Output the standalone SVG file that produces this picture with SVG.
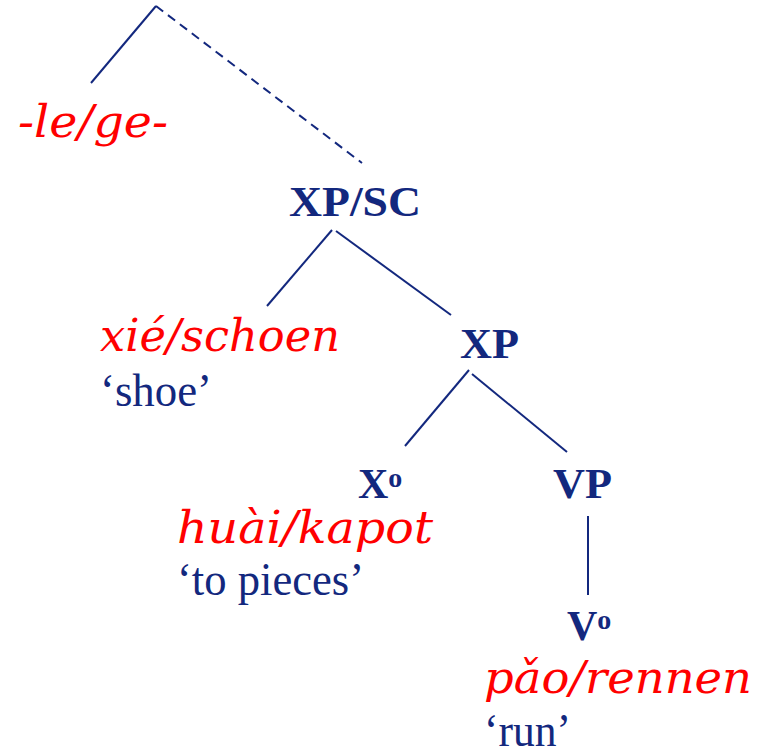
<svg xmlns="http://www.w3.org/2000/svg" width="762" height="753" viewBox="0 0 762 753">
  <style>
    .edge { stroke: #13287e; stroke-width: 2; fill: none; }
    .dash { stroke-dasharray: 9 6; }
    .cat { font-family: "Liberation Serif", "Times New Roman", serif; font-weight: bold; font-size: 42px; fill: #13287e; }
    .word { font-family: "DejaVu Serif", Georgia, serif; font-style: italic; font-size: 45px; fill: #ff0000; }
    .gloss { font-family: "Liberation Serif", "Times New Roman", serif; font-size: 46px; fill: #13287e; }
    .sup { font-size: 28px; }
  </style>
  <rect width="762" height="753" fill="#ffffff"/>

  <g id="connectors">
    <line class="edge" x1="156" y1="6" x2="91" y2="83"/>
    <line class="edge dash" x1="156" y1="6" x2="362" y2="163"/>
    <line class="edge" x1="332" y1="230" x2="267" y2="306"/>
    <line class="edge" x1="336" y1="231" x2="451" y2="315"/>
    <line class="edge" x1="469" y1="370" x2="405" y2="446"/>
    <line class="edge" x1="472" y1="374" x2="567" y2="452"/>
    <line class="edge" x1="588" y1="516" x2="588" y2="595"/>
  </g>

  <g id="node-le-ge">
    <text class="word" x="18" y="137" textLength="150" lengthAdjust="spacingAndGlyphs">-le/ge-</text>
  </g>

  <g id="node-xpsc">
    <text class="cat" x="289" y="216" textLength="132" lengthAdjust="spacingAndGlyphs">XP/SC</text>
  </g>

  <g id="node-shoe">
    <text class="word" x="100" y="351" textLength="240" lengthAdjust="spacingAndGlyphs">xié/schoen</text>
    <text class="gloss" x="100" y="406" textLength="112" lengthAdjust="spacingAndGlyphs">‘shoe’</text>
  </g>

  <g id="node-xp">
    <text class="cat" x="460" y="358" textLength="59" lengthAdjust="spacingAndGlyphs">XP</text>
  </g>

  <g id="node-x0">
    <text class="cat" x="358" y="498">X<tspan class="sup" dy="-11">o</tspan></text>
    <text class="word" x="177" y="543" textLength="256" lengthAdjust="spacingAndGlyphs">huài/kapot</text>
    <text class="gloss" x="177" y="595" textLength="187" lengthAdjust="spacingAndGlyphs">‘to pieces’</text>
  </g>

  <g id="node-vp">
    <text class="cat" x="553" y="498" textLength="59" lengthAdjust="spacingAndGlyphs">VP</text>
  </g>

  <g id="node-v0">
    <text class="cat" x="567" y="640">V<tspan class="sup" dy="-11">o</tspan></text>
    <text class="word" x="484" y="693" textLength="268" lengthAdjust="spacingAndGlyphs">pǎo/rennen</text>
    <text class="gloss" x="484" y="746" textLength="87" lengthAdjust="spacingAndGlyphs">‘run’</text>
  </g>
</svg>
